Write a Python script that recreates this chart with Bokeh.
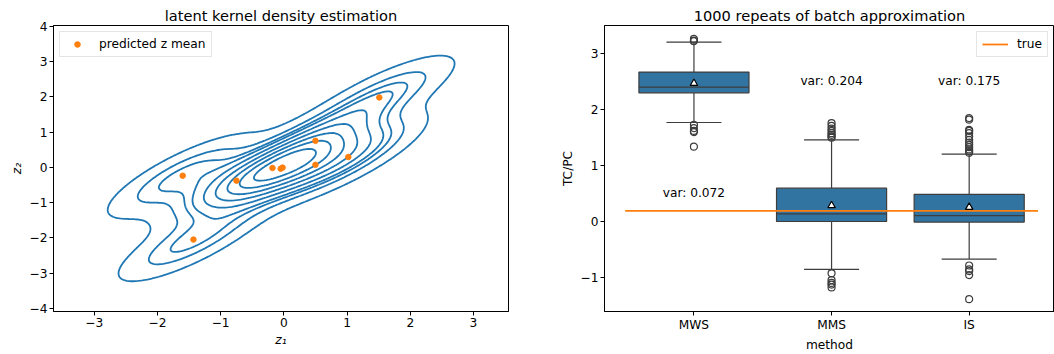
import numpy as np
from bokeh.plotting import figure
from bokeh.layouts import row
from bokeh.models import Range1d, FixedTicker, Legend, LegendItem
from bokeh.embed import file_html
from bokeh.resources import INLINE
from bokeh.core.properties import value

# ---------------- data: left panel (predicted z means) ----------------
z1 = [-1.60, -1.43, -0.75, -0.18, -0.05, -0.02, 0.50, 0.50, 1.02, 1.51]
z2 = [-0.24, -2.05, -0.38, -0.02, -0.04, -0.01, 0.75, 0.07, 0.29, 1.98]

# ---------------- data: right panel (box plot stats) ----------------
methods = ["MWS", "MMS", "IS"]
q1 = [2.30, 0.005, -0.005]
median = [2.40, 0.14, 0.11]
q3 = [2.67, 0.60, 0.49]
whisker_low = [1.77, -0.85, -0.665]
whisker_high = [3.205, 1.46, 1.205]
means = [2.47, 0.29, 0.26]
outliers_mws = [3.26, 3.23, 3.22, 1.73, 1.67, 1.62, 1.60, 1.34]
outliers_mms = [1.76, 1.71, 1.66, 1.62, 1.58, 1.55, 1.52, 1.50,
                -0.92, -1.04, -1.09, -1.12, -1.17]
outliers_is = [1.85, 1.82, 1.64, 1.62, 1.58, 1.52, 1.46, 1.41, 1.37, 1.33,
               1.29, 1.26, 1.23, -0.78, -0.85, -0.88, -0.95, -1.38]
var_labels = ["var: 0.072", "var: 0.204", "var: 0.175"]
var_label_y = [0.52, 2.51, 2.51]
true_value = 0.195

FONT = "DejaVu Sans"
TICK_PX = "12.2px"
BLUE = "#1f77b4"
ORANGE = "#ff7f0e"
BOXBLUE = "#3274a1"
GRAY = "#3d3d3d"


def minus(v):
    return str(v).replace("-", "\u2212")


def style(p):
    p.grid.visible = False
    p.outline_line_color = "black"
    p.outline_line_width = 1
    p.background_fill_color = "white"
    p.border_fill_color = "white"
    for ax in (p.xaxis[0], p.yaxis[0]):
        ax.major_label_text_font = FONT
        ax.major_label_text_font_size = TICK_PX
        ax.major_label_text_color = "black"
        ax.axis_label_text_font = FONT
        ax.axis_label_text_font_size = TICK_PX
        ax.axis_label_text_font_style = "normal"
        ax.axis_label_text_color = "black"
        ax.minor_tick_line_color = None
        ax.major_tick_in = 0
        ax.major_tick_out = 4
        ax.major_tick_line_color = "black"
        ax.axis_line_color = "black"
        ax.major_label_standoff = 2
        ax.axis_label_standoff = 3
    p.title.text_font = FONT
    p.title.text_font_size = "14.6px"
    p.title.text_font_style = "normal"
    p.title.text_color = "black"
    p.title.align = "center"
    p.title.standoff = 3


def style_legend(lg):
    lg.label_text_font = FONT
    lg.label_text_font_size = TICK_PX
    lg.label_text_color = "black"
    lg.border_line_color = "#cccccc"
    lg.border_line_width = 1
    lg.background_fill_alpha = 0.8
    lg.padding = 5
    lg.margin = 6
    lg.glyph_height = 14
    lg.label_height = 14
    lg.spacing = 0


# ---------------- KDE (gaussian, Scott's rule) ----------------
P = np.vstack([z1, z2])
n = P.shape[1]
factor = n ** (-1.0 / 6.0)
cov = np.cov(P) * factor ** 2
inv = np.linalg.inv(cov)
norm = 1.0 / (2 * np.pi * np.sqrt(np.linalg.det(cov)) * n)
bw = np.sqrt(np.diag(cov))
gx = np.linspace(P[0].min() - 3 * bw[0], P[0].max() + 3 * bw[0], 200)
gy = np.linspace(P[1].min() - 3 * bw[1], P[1].max() + 3 * bw[1], 200)
X, Y = np.meshgrid(gx, gy)
D = np.zeros_like(X)
for xi, yi in zip(z1, z2):
    dx = X - xi
    dy = Y - yi
    qf = inv[0, 0] * dx * dx + 2 * inv[0, 1] * dx * dy + inv[1, 1] * dy * dy
    D += np.exp(-0.5 * qf)
D *= norm
iso = np.linspace(0.05, 1, 10)
sv = np.sort(D.ravel())[::-1]
cum = np.cumsum(sv) / sv.sum()
idx = np.searchsorted(cum, 1 - iso)
levels = np.take(sv, idx, mode="clip")[:-1]
levels = list(np.unique(levels))

# ---------------- left figure ----------------
p1 = figure(width=520, height=354, output_backend="svg", toolbar_location=None,
            x_range=Range1d(gx[0], gx[-1]), y_range=Range1d(gy[0], gy[-1]),
            title="latent kernel density estimation",
            min_border_left=53, min_border_right=12, min_border_top=25,
            min_border_bottom=0)
style(p1)
p1.contour(gx, gy, D, levels, line_color=BLUE, line_width=1.8)
r_pts = p1.scatter(z1, z2, size=5.5, color=ORANGE)
xt = [-3, -2, -1, 0, 1, 2, 3]
yt = [-4, -3, -2, -1, 0, 1, 2, 3, 4]
p1.xaxis.ticker = FixedTicker(ticks=xt)
p1.yaxis.ticker = FixedTicker(ticks=yt)
p1.xaxis.major_label_overrides = {t: minus(t) for t in xt}
p1.yaxis.major_label_overrides = {t: minus(t) for t in yt}
p1.xaxis.axis_label = "z\u2081"
p1.yaxis.axis_label = "z\u2082"
p1.xaxis.axis_label_text_font_style = "italic"
p1.yaxis.axis_label_text_font_style = "italic"
lg1 = Legend(items=[LegendItem(label="predicted z mean", renderers=[r_pts])],
             location="top_left")
style_legend(lg1)
lg1.glyph_width = 24
lg1.label_standoff = 10
p1.add_layout(lg1)

# ---------------- right figure ----------------
xs = list(range(len(methods)))
p2 = figure(width=534, height=354, output_backend="svg", toolbar_location=None,
            x_range=Range1d(-0.65, 2.62), y_range=Range1d(-1.60, 3.50),
            title="1000 repeats of batch approximation",
            min_border_left=84, min_border_right=0, min_border_top=25,
            min_border_bottom=0)
style(p2)
xa = np.array(xs, dtype=float)
# whiskers
p2.segment(xa, q1, xa, whisker_low, line_color=GRAY, line_width=1.2)
p2.segment(xa, q3, xa, whisker_high, line_color=GRAY, line_width=1.2)
p2.segment(xa - 0.2, whisker_low, xa + 0.2, whisker_low, line_color=GRAY, line_width=1.2)
p2.segment(xa - 0.2, whisker_high, xa + 0.2, whisker_high, line_color=GRAY, line_width=1.2)
# boxes
p2.quad(left=xa - 0.4, right=xa + 0.4, bottom=q1, top=q3,
        fill_color=BOXBLUE, line_color=GRAY, line_width=1.2)
p2.segment(xa - 0.4, median, xa + 0.4, median, line_color=GRAY, line_width=1.2)
# outliers
ox, oy = [], []
for i, outs in enumerate([outliers_mws, outliers_mms, outliers_is]):
    ox += [i] * len(outs)
    oy += outs
p2.scatter(ox, oy, size=7, fill_color=None, line_color=GRAY, line_width=1.2)
# means
p2.scatter(xa, means, marker="triangle", size=7.5, fill_color="white",
           line_color="black", line_width=1.2)
# true line
r_true = p2.line([-0.5, len(methods) - 0.5], [true_value, true_value],
                 line_color=ORANGE, line_width=1.8)
# var labels
p2.text(xa, var_label_y, text=var_labels, text_align="center",
        text_baseline="middle", text_font=value(FONT),
        text_font_size=TICK_PX, text_color="black")
p2.xaxis.ticker = FixedTicker(ticks=xs)
p2.xaxis.major_label_overrides = {i: m for i, m in enumerate(methods)}
yt2 = [-1, 0, 1, 2, 3]
p2.yaxis.ticker = FixedTicker(ticks=yt2)
p2.yaxis.major_label_overrides = {t: minus(t) for t in yt2}
p2.xaxis.axis_label = "method"
p2.yaxis.axis_label = "TC/PC"
lg2 = Legend(items=[LegendItem(label="true", renderers=[r_true])],
             location="top_right")
style_legend(lg2)
lg2.glyph_width = 26
lg2.label_standoff = 9
p2.add_layout(lg2)

layout = row(p1, p2)
open("out.html", "w").write(file_html(layout, INLINE))
